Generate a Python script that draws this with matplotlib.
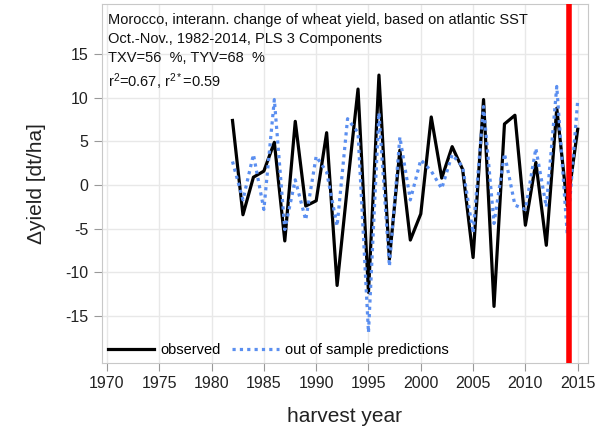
import matplotlib
matplotlib.use("Agg")
import matplotlib.pyplot as plt

plt.rcParams['font.family'] = ['Liberation Sans', 'DejaVu Sans']
plt.rcParams['axes.unicode_minus'] = False
plt.rcParams['mathtext.fontset'] = 'custom'
plt.rcParams['mathtext.rm'] = 'Liberation Sans'
plt.rcParams['mathtext.it'] = 'Liberation Sans'

# harvest years and values (dt/ha)
years = list(range(1982, 2016))
observed = [7.4, -3.4, 0.9, 1.6, 4.9, -6.4, 7.3, -2.4, -1.8, 6.0,
            -11.5, 0.0, 11.0, -12.3, 12.6, -8.5, 4.0, -6.3, -3.3, 7.8,
            0.8, 4.4, 1.8, -8.3, 9.8, -13.9, 7.0, 8.0, -4.6, 2.6,
            -6.9, 8.8, -2.4, 6.4]
predicted = [2.7, -1.7, 3.5, -2.8, 9.8, -5.1, 0.6, -4.0, 3.3, 1.5,
             -4.7, 7.6, 6.0, -16.9, 8.3, -9.3, 5.5, -1.7, 2.9, 1.6,
             -0.4, 3.5, 2.1, -5.5, 9.0, -4.4, 3.6, -2.3, -2.8, 4.2,
             -2.5, 11.3, -5.6, 9.7]
split_year = 2014.2

info = ("Morocco, interann. change of wheat yield, based on atlantic SST\n"
        "Oct.-Nov., 1982-2014, PLS 3 Components\n"
        "TXV=56  %, TYV=68  %\n"
        "r$^\\mathrm{2}$=0.67, r$^\\mathrm{2*}$=0.59")

fig = plt.figure(figsize=(6.02, 4.37), dpi=100)
ax = fig.add_axes([0.169, 0.169, 0.808, 0.822])

ax.plot(years, observed, color='black', lw=2.3, label='observed', zorder=3)
ax.plot(years, predicted, color='#5b8ff0', lw=2.3, ls=(0, (1, 1.3)),
        label='out of sample predictions', zorder=4)
ax.axvline(split_year, color='#ff0000', lw=4, zorder=5)

ax.set_xlim(1969.5, 2016.0)
ax.set_ylim(-20.4, 20.75)
ax.set_xticks(range(1970, 2016, 5))
ax.set_yticks(range(-15, 16, 5))
ax.grid(True, color='#e8e8e8', lw=1)
ax.set_axisbelow(True)
for s in ax.spines.values():
    s.set_color('#c8c8c8')
ax.tick_params(colors='#999999', labelcolor='#222222', labelsize=11.5, length=6)

ax.set_xlabel('harvest year', fontsize=15, color='#222222', labelpad=11)
ax.set_ylabel('Δyield [dt/ha]', fontsize=15, color='#222222', labelpad=14)

ax.text(0.012, 0.975, info, transform=ax.transAxes, va='top', ha='left',
        fontsize=10.5, color='#111111', linespacing=1.45)

ax.legend(loc='lower left', ncol=2, frameon=False, fontsize=10.5,
          handlelength=3.2, columnspacing=0.8, handletextpad=0.4,
          borderaxespad=0.0)

fig.savefig('out.png', dpi=100)
